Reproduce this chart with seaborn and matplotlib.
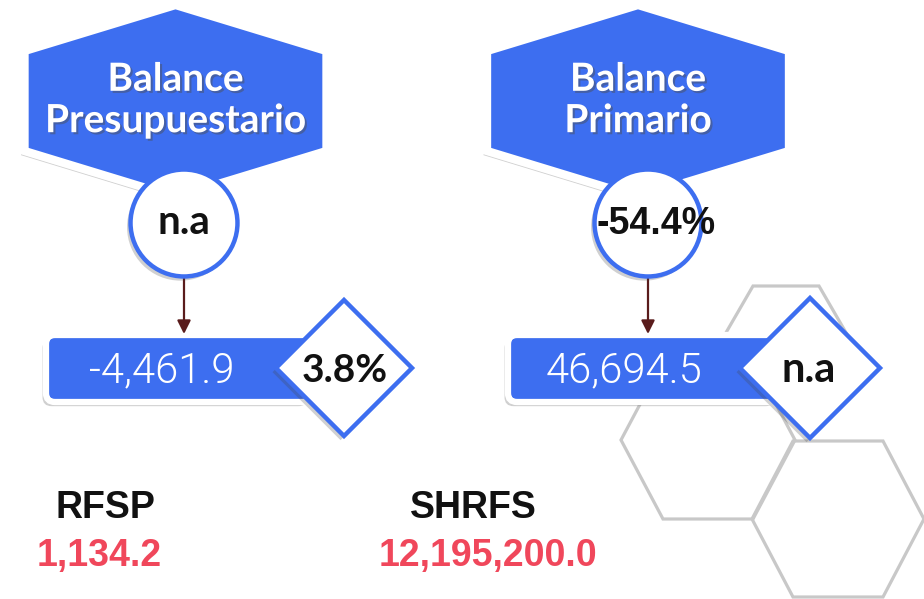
import matplotlib
matplotlib.use('Agg')
import matplotlib.pyplot as plt
import matplotlib.patheffects as pe
from matplotlib.patches import Polygon, FancyBboxPatch
import pandas as pd
import seaborn as sns

# data
headings = ['Balance\nPresupuestario', 'Balance\nPrimario']
amounts = ['-4,461.9', '46,694.5']
circle_vals = ['n.a', '-54.4%']
diamond_vals = ['3.8%', 'n.a']
bottom_labels = ['RFSP', 'SHRFS']
bottom_vals = ['1,134.2', '12,195,200.0']

sns.set_theme(style='white')
plt.rcParams['font.family'] = ['Lato', 'DejaVu Sans']

BLUE = '#3d6ef0'
RED = '#f0475b'
GREY = '#c8c8c8'

fig = plt.figure(figsize=(9.24, 5.99), dpi=100)
ax = fig.add_axes([0, 0, 1, 1])
ax.set_xlim(0, 924)
ax.set_ylim(599, 0)
ax.axis('off')

shadow = [pe.SimplePatchShadow(offset=(-2.5, -3), alpha=0.25, shadow_rgbFace='#444444'), pe.Normal()]


def hex_pointy(cx, cy, w, h, a):
    return [(cx, cy - h), (cx + w, cy - a), (cx + w, cy + a),
            (cx, cy + h), (cx - w, cy + a), (cx - w, cy - a)]


def hex_flat(cx, cy, w, h, a):
    return [(cx - a, cy - h), (cx + a, cy - h), (cx + w, cy),
            (cx + a, cy + h), (cx - a, cy + h), (cx - w, cy)]


# grey honeycomb in the back
for cx, cy, w, h, a in [(786, 343, 66, 57, 33), (708, 440, 87, 79, 45), (838, 519, 86, 78, 45)]:
    ax.add_patch(Polygon(hex_flat(cx, cy, w, h, a), closed=True, fc='none', ec=GREY, lw=2.3, zorder=1))

head_x = [175.5, 638]
circ_x = [184, 648]
box_x = [(46, 265), (508, 270)]
diam = [(344, 68), (810, 70)]

for i in range(2):
    # heading hexagon
    ax.add_patch(Polygon(hex_pointy(head_x[i], 101, 151, 96, 50), closed=True, fc=BLUE, ec='white',
                         lw=6, joinstyle='miter', zorder=2, path_effects=shadow))
    ax.text(head_x[i], 100, headings[i], ha='center', va='center', color='white', fontsize=28,
            fontweight='bold', linespacing=1.22, zorder=6,
            path_effects=[pe.SimplePatchShadow(offset=(1.5, -1.5), alpha=0.45), pe.Normal()])

    # value box
    x0, bw = box_x[i]
    ax.add_patch(FancyBboxPatch((x0, 335), bw, 67, boxstyle='round,pad=0,rounding_size=9',
                                fc=BLUE, ec='white', lw=4.5, zorder=3, path_effects=shadow))
    ax.text(x0 + 116, 371, amounts[i], ha='center', va='center', color='white', fontsize=30,
            fontweight=300, family=['Roboto', 'DejaVu Sans'], zorder=6)

    # diamond badge
    dx, dr = diam[i]
    ax.add_patch(Polygon([(dx, 368 - dr), (dx + dr, 368), (dx, 368 + dr), (dx - dr, 368)], closed=True,
                         fc='white', ec=BLUE, lw=3.2, joinstyle='miter', zorder=4, path_effects=shadow))

    # arrow circle -> box
    ax.annotate('', xy=(circ_x[i], 334), xytext=(circ_x[i], 277),
                arrowprops=dict(arrowstyle='-|>', color='#5a1c1c', lw=1.6, mutation_scale=20,
                                shrinkA=0, shrinkB=0), zorder=3)

ax.text(345, 370, diamond_vals[0], ha='center', va='center', fontsize=28, fontweight='bold',
        color='#111111', zorder=6)
ax.text(809, 370, diamond_vals[1], ha='center', va='center', fontsize=30, fontweight='bold',
        color='#111111', zorder=6)

# circles through seaborn scatter
circles = pd.DataFrame({'x': circ_x, 'y': [223, 223]})
sns.scatterplot(data=circles, x='x', y='y', s=77 ** 2, color='white', edgecolor=BLUE, linewidth=3.2,
                ax=ax, zorder=5, legend=False)
ax.collections[-1].set_path_effects(shadow)
ax.set_xlim(0, 924)
ax.set_ylim(599, 0)
ax.axis('off')

ax.text(184, 222, circle_vals[0], ha='center', va='center', fontsize=29, fontweight='bold',
        color='#111111', zorder=6)
ax.text(656, 224, circle_vals[1], ha='center', va='center', fontsize=27, fontweight='bold',
        color='#111111', family=['Liberation Sans', 'DejaVu Sans'], zorder=6)

# bottom labels
narrow = ['Liberation Sans', 'DejaVu Sans']
for x_lab, x_val, lab, val in zip([105, 473], [99, 488], bottom_labels, bottom_vals):
    ax.text(x_lab, 508, lab, ha='center', va='center', fontsize=27, fontweight='bold',
            color='#111111', family=narrow)
    ax.text(x_val, 556, val, ha='center', va='center', fontsize=27, fontweight='bold',
            color=RED, family=narrow)

fig.savefig('out.png', dpi=100)
